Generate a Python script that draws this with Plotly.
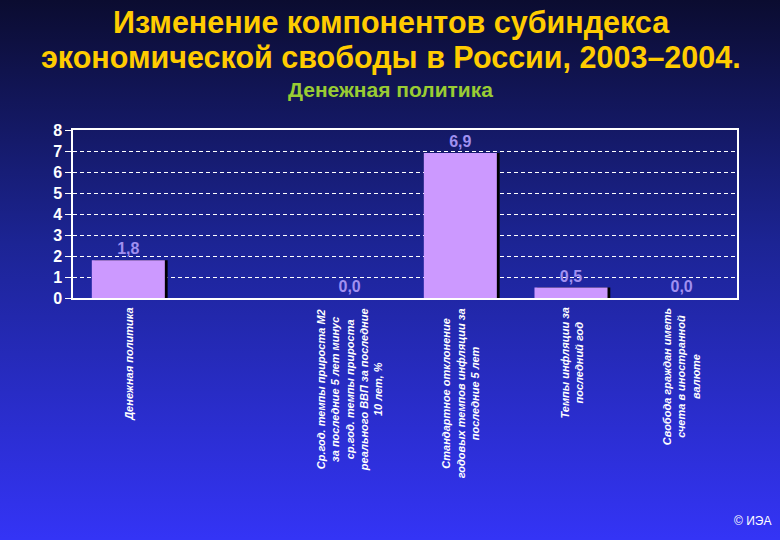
import base64
import plotly.graph_objects as go

# data
categories = [
    "Денежная политика",
    " ",
    "Ср.год. темпы прироста М2<br>за последние 5 лет минус<br>ср.год. темпы прироста<br>реального ВВП за последние<br>10 лет, %",
    "Стандартное отклонение<br>годовых темпов инфляции за<br>последние 5 лет",
    "Темпы инфляции за<br>последний год",
    "Свобода граждан иметь<br>счета в иностранной<br>валюте",
]
values = [1.8, None, 0.0, 6.9, 0.5, 0.0]
y_ticks = [0, 1, 2, 3, 4, 5, 6, 7, 8]

# configs
W, H = 780, 540
ML, MR, MT, MB = 73, 43, 130, 242
PW, PH = W - ML - MR, H - MT - MB
BAR_W = 0.66
BAR_COLOR = '#CC99FF'
TEXT_COLOR = '#A090F0'
FONT = 'Liberation Sans'


def py(pix):
    # pixel row of the page -> paper y
    return (H - MB - pix) / PH


def px(pix):
    return (pix - ML) / PW


labels = ['' if v is None else f'{v:.1f}'.replace('.', ',') for v in values]

# gradient background as svg image
svg = ('<svg xmlns="http://www.w3.org/2000/svg" width="780" height="540">'
       '<defs><linearGradient id="g" x1="0" y1="0" x2="0" y2="1">'
       '<stop offset="0" stop-color="#0b0c30"/>'
       '<stop offset="0.45" stop-color="#1c2494"/>'
       '<stop offset="1" stop-color="#3434f6"/>'
       '</linearGradient></defs>'
       '<rect width="780" height="540" fill="url(#g)"/></svg>')
bg_src = 'data:image/svg+xml;base64,' + base64.b64encode(svg.encode()).decode()

fig = go.Figure()
# shadow
fig.add_trace(go.Bar(x=categories, y=values, width=BAR_W, offset=-BAR_W / 2 + 0.025,
                     marker=dict(color='black', line=dict(width=0)),
                     hoverinfo='skip', showlegend=False))
fig.add_trace(go.Bar(x=categories, y=values, width=BAR_W, offset=-BAR_W / 2,
                     marker=dict(color=BAR_COLOR, line=dict(width=0)),
                     text=labels, textposition='outside', cliponaxis=False,
                     textfont=dict(family=FONT, size=16, color=TEXT_COLOR, weight='bold'),
                     showlegend=False))

fig.update_layout(
    width=W, height=H,
    margin=dict(l=ML, r=MR, t=MT, b=MB, autoexpand=False),
    barmode='overlay',
    paper_bgcolor='#1a2080',
    plot_bgcolor='rgba(0,0,0,0)',
    images=[dict(source=bg_src, xref='paper', yref='paper',
                 x=-ML / PW, y=1 + MT / PH, sizex=W / PW, sizey=H / PH,
                 xanchor='left', yanchor='top', sizing='stretch', layer='below')],
)

fig.update_xaxes(showticklabels=False, ticks='', showgrid=False,
                 showline=True, linecolor='white', linewidth=1.5, mirror=True)
fig.update_yaxes(range=[0, 8], tickvals=y_ticks, showgrid=True, gridcolor='white',
                 griddash='4px,3px', gridwidth=1, zeroline=False,
                 showline=True, linecolor='white', linewidth=1.5, mirror=True,
                 ticks='outside', ticklen=6, tickcolor='white',
                 tickfont=dict(family=FONT, size=16, color='white', weight='bold'))

# rotated category labels
for c in categories:
    fig.add_annotation(x=c, y=py(306), xref='x', yref='paper', text=c,
                       textangle=-90, showarrow=False, xanchor='center', yanchor='top',
                       align='center',
                       font=dict(family=FONT, size=11, color='white', style='italic', weight='bold'))

# titles
for txt, row in [('Изменение компонентов субиндекса', 22),
                 ('экономической свободы в России, 2003–2004.', 57)]:
    fig.add_annotation(x=px(391), y=py(row), xref='paper', yref='paper', text=txt,
                       showarrow=False, xanchor='center', yanchor='middle',
                       font=dict(family=FONT, size=30.5, color='#FFCC00', weight='bold'))
fig.add_annotation(x=px(390), y=py(89), xref='paper', yref='paper',
                   text='Денежная политика', showarrow=False, xanchor='center', yanchor='middle',
                   font=dict(family=FONT, size=21, color='#99CC33', weight='bold'))
fig.add_annotation(x=px(773), y=py(521), xref='paper', yref='paper',
                   text='© ИЭА', showarrow=False, xanchor='right', yanchor='middle',
                   font=dict(family=FONT, size=12, color='white'))

fig.write_html("out.html", config={'displayModeBar': False},
               post_script="document.body.style.margin='0';document.body.style.overflow='hidden';")
